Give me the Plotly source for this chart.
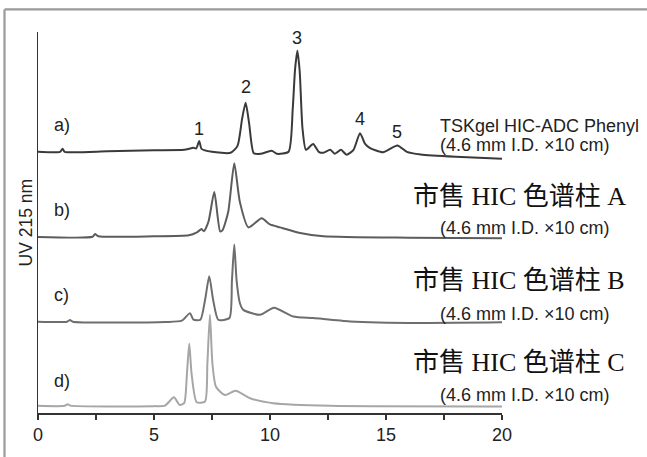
import plotly.graph_objects as go

# Retention time (min) and detector signal (arbitrary units, traces stacked with offsets)
t_a = [0, 0.95, 1.06, 1.15, 3.0, 5.0, 6.3, 6.7, 6.82, 6.95, 7.05, 7.5, 8.3, 8.6, 8.8, 8.95, 9.1, 9.3, 9.6,
       10.07, 10.3, 10.8, 10.98, 11.08, 11.18, 11.28, 11.4, 11.55, 11.86, 12.1, 12.3, 12.6, 12.8, 13.06,
       13.3, 13.6, 13.88, 14.1, 14.3, 14.87, 15.49, 15.9, 16.5, 18.0, 20.0]
y_a = [266, 266, 269, 266, 266.5, 267.5, 268, 270, 269.5, 277, 269, 266, 265, 272, 300, 316, 295, 264.5, 264,
       267, 264, 266, 310, 350, 369, 348, 290, 268, 274, 266, 265, 268, 264, 268,
       263, 268, 285, 274, 270, 265.5, 272.5, 266, 263.3, 261, 259]

t_b = [0, 2.35, 2.46, 2.6, 5.0, 6.5, 6.85, 7.05, 7.15, 7.35, 7.6, 7.85, 7.95, 8.2, 8.46, 8.7, 9.07, 9.64,
       10.0, 10.43, 11.3, 12.3, 16.0, 20.0]
y_b = [179.3, 179.5, 182.3, 180, 180, 181, 184, 187.3, 185, 195, 225, 185, 186, 205, 254.3, 215, 189, 198.3,
       192, 189, 183.3, 180, 178.5, 178]

t_c = [0, 1.25, 1.38, 1.5, 5.5, 6.2, 6.55, 6.7, 7.0, 7.2, 7.38, 7.55, 7.77, 8.25, 8.36, 8.46, 8.56, 8.7,
       8.85, 9.57, 10.17, 11.0, 11.87, 13.45, 16.5, 20.0]
y_c = [93, 93, 94.7, 93, 92.7, 94, 101.7, 95, 95, 115, 139.3, 115, 95, 96.7, 135, 171.7, 135, 112,
       105, 100, 107.3, 98.3, 96.7, 93.3, 91.7, 92.3]

t_d = [0, 1.15, 1.28, 1.4, 5.0, 5.47, 5.86, 6.1, 6.3, 6.42, 6.52, 6.62, 6.84, 7.2, 7.3, 7.41, 7.52, 7.67,
       8.06, 8.52, 9.14, 10.14, 12.59, 20.0]
y_d = [7.3, 7.3, 9, 7.5, 7, 7.5, 16, 8.3, 10, 40, 70.7, 40, 11, 11.7, 50, 100, 50, 26.7,
       18.3, 22.7, 15, 10, 7.3, 6.7]

trace_labels = ["a)", "b)", "c)", "d)"]
trace_label_y = [293.3, 207, 120, 33]
trace_colors = ["#3a3a3a", "#5c5c5c", "#6e6e6e", "#a6a6a6"]

peak_numbers = ["1", "2", "3", "4", "5"]
peak_t = [6.95, 8.95, 11.18, 13.88, 15.49]
peak_label_y = [289, 332, 382, 299, 286]

column_names = ["市售 HIC 色谱柱 A", "市售 HIC 色谱柱 B", "市售 HIC 色谱柱 C"]
column_name_y = [220, 135, 51]
dims_text = "(4.6 mm I.D. ×10 cm)"
dims_y = [273.3, 188.3, 101, 18.3]

x_tickvals = [0, 2.5, 5, 7.5, 10, 12.5, 15, 17.5, 20]
x_ticktext = ["0", "", "5", "", "10", "", "15", "", "20"]

fig = go.Figure()
for tx, ty, col in zip([t_a, t_b, t_c, t_d], [y_a, y_b, y_c, y_d], trace_colors):
    fig.add_trace(go.Scatter(x=tx, y=ty, mode="lines",
                             line=dict(color=col, width=2, shape="spline", smoothing=0.6),
                             showlegend=False, hoverinfo="skip"))

sans = "Liberation Sans, Arial, sans-serif"
serif = "Liberation Serif, Noto Sans CJK SC, serif"

for lab, ly in zip(trace_labels, trace_label_y):
    fig.add_annotation(x=0.6, y=ly, xref="x", yref="y", text=lab, showarrow=False,
                       xanchor="left", yanchor="middle", font=dict(family=sans, size=18, color="#222"))
for n, px, py in zip(peak_numbers, peak_t, peak_label_y):
    fig.add_annotation(x=px, y=py, xref="x", yref="y", text=n, showarrow=False,
                       xanchor="center", yanchor="middle", font=dict(family=sans, size=18, color="#222"))

fig.add_annotation(x=17.24, y=292.3, xref="x", yref="y", text="TSKgel HIC-ADC Phenyl", showarrow=False,
                   xanchor="left", yanchor="middle", font=dict(family=sans, size=18, color="#222"))
for dy in dims_y:
    fig.add_annotation(x=17.24, y=dy, xref="x", yref="y", text=dims_text, showarrow=False,
                       xanchor="left", yanchor="middle", font=dict(family=sans, size=18, color="#222"))
for nm, ny in zip(column_names, column_name_y):
    fig.add_annotation(x=16.07, y=ny, xref="x", yref="y", text=nm, showarrow=False,
                       xanchor="left", yanchor="middle", font=dict(family=serif, size=26, color="#111"))

fig.add_annotation(x=21.6, y=-18, xref="x", yref="y", text="min", showarrow=False,
                   xanchor="center", yanchor="middle", font=dict(family=sans, size=18, color="#222"))
fig.add_annotation(x=(25 - 38) / 464, y=(420 - 226) / 388, xref="paper", yref="paper", text="UV 215 nm",
                   showarrow=False, textangle=-90, xanchor="center", yanchor="middle",
                   font=dict(family=sans, size=17.5, color="#222"))

# figure frame: top and left edges
fig.add_shape(type="line", xref="paper", yref="paper",
              x0=(4.5 - 38) / 464, x1=(660 - 38) / 464, y0=(420 - 9) / 388, y1=(420 - 9) / 388,
              line=dict(color="#9a9a9a", width=2.2), layer="above")
fig.add_shape(type="line", xref="paper", yref="paper",
              x0=(4.5 - 38) / 464, x1=(4.5 - 38) / 464, y0=(420 - 9) / 388, y1=(420 - 470) / 388,
              line=dict(color="#9a9a9a", width=2.2), layer="above")

fig.update_layout(
    width=647, height=457,
    margin=dict(l=38, r=145, t=32, b=37),
    plot_bgcolor="white", paper_bgcolor="white",
    xaxis=dict(range=[0, 20], tickvals=x_tickvals, ticktext=x_ticktext, ticks="outside", ticklen=5,
               tickwidth=1.5, tickcolor="#333", showline=True, linecolor="#333", linewidth=1.5,
               showgrid=False, zeroline=False, tickfont=dict(family=sans, size=18, color="#222")),
    yaxis=dict(range=[0, 388], showticklabels=False, ticks="", showline=True, linecolor="#333",
               linewidth=1.5, showgrid=False, zeroline=False),
)

fig.write_html(
    "out.html",
    config={"displayModeBar": False, "staticPlot": True},
    post_script=("document.documentElement.style.margin='0';document.body.style.margin='0';"
                 "document.body.style.padding='0';document.documentElement.style.overflow='hidden';"
                 "var gd=document.querySelector('.plotly-graph-div');"
                 "gd.style.position='fixed';gd.style.top='0px';gd.style.left='0px';"
                 "window.scrollTo(0,0);"),
)
